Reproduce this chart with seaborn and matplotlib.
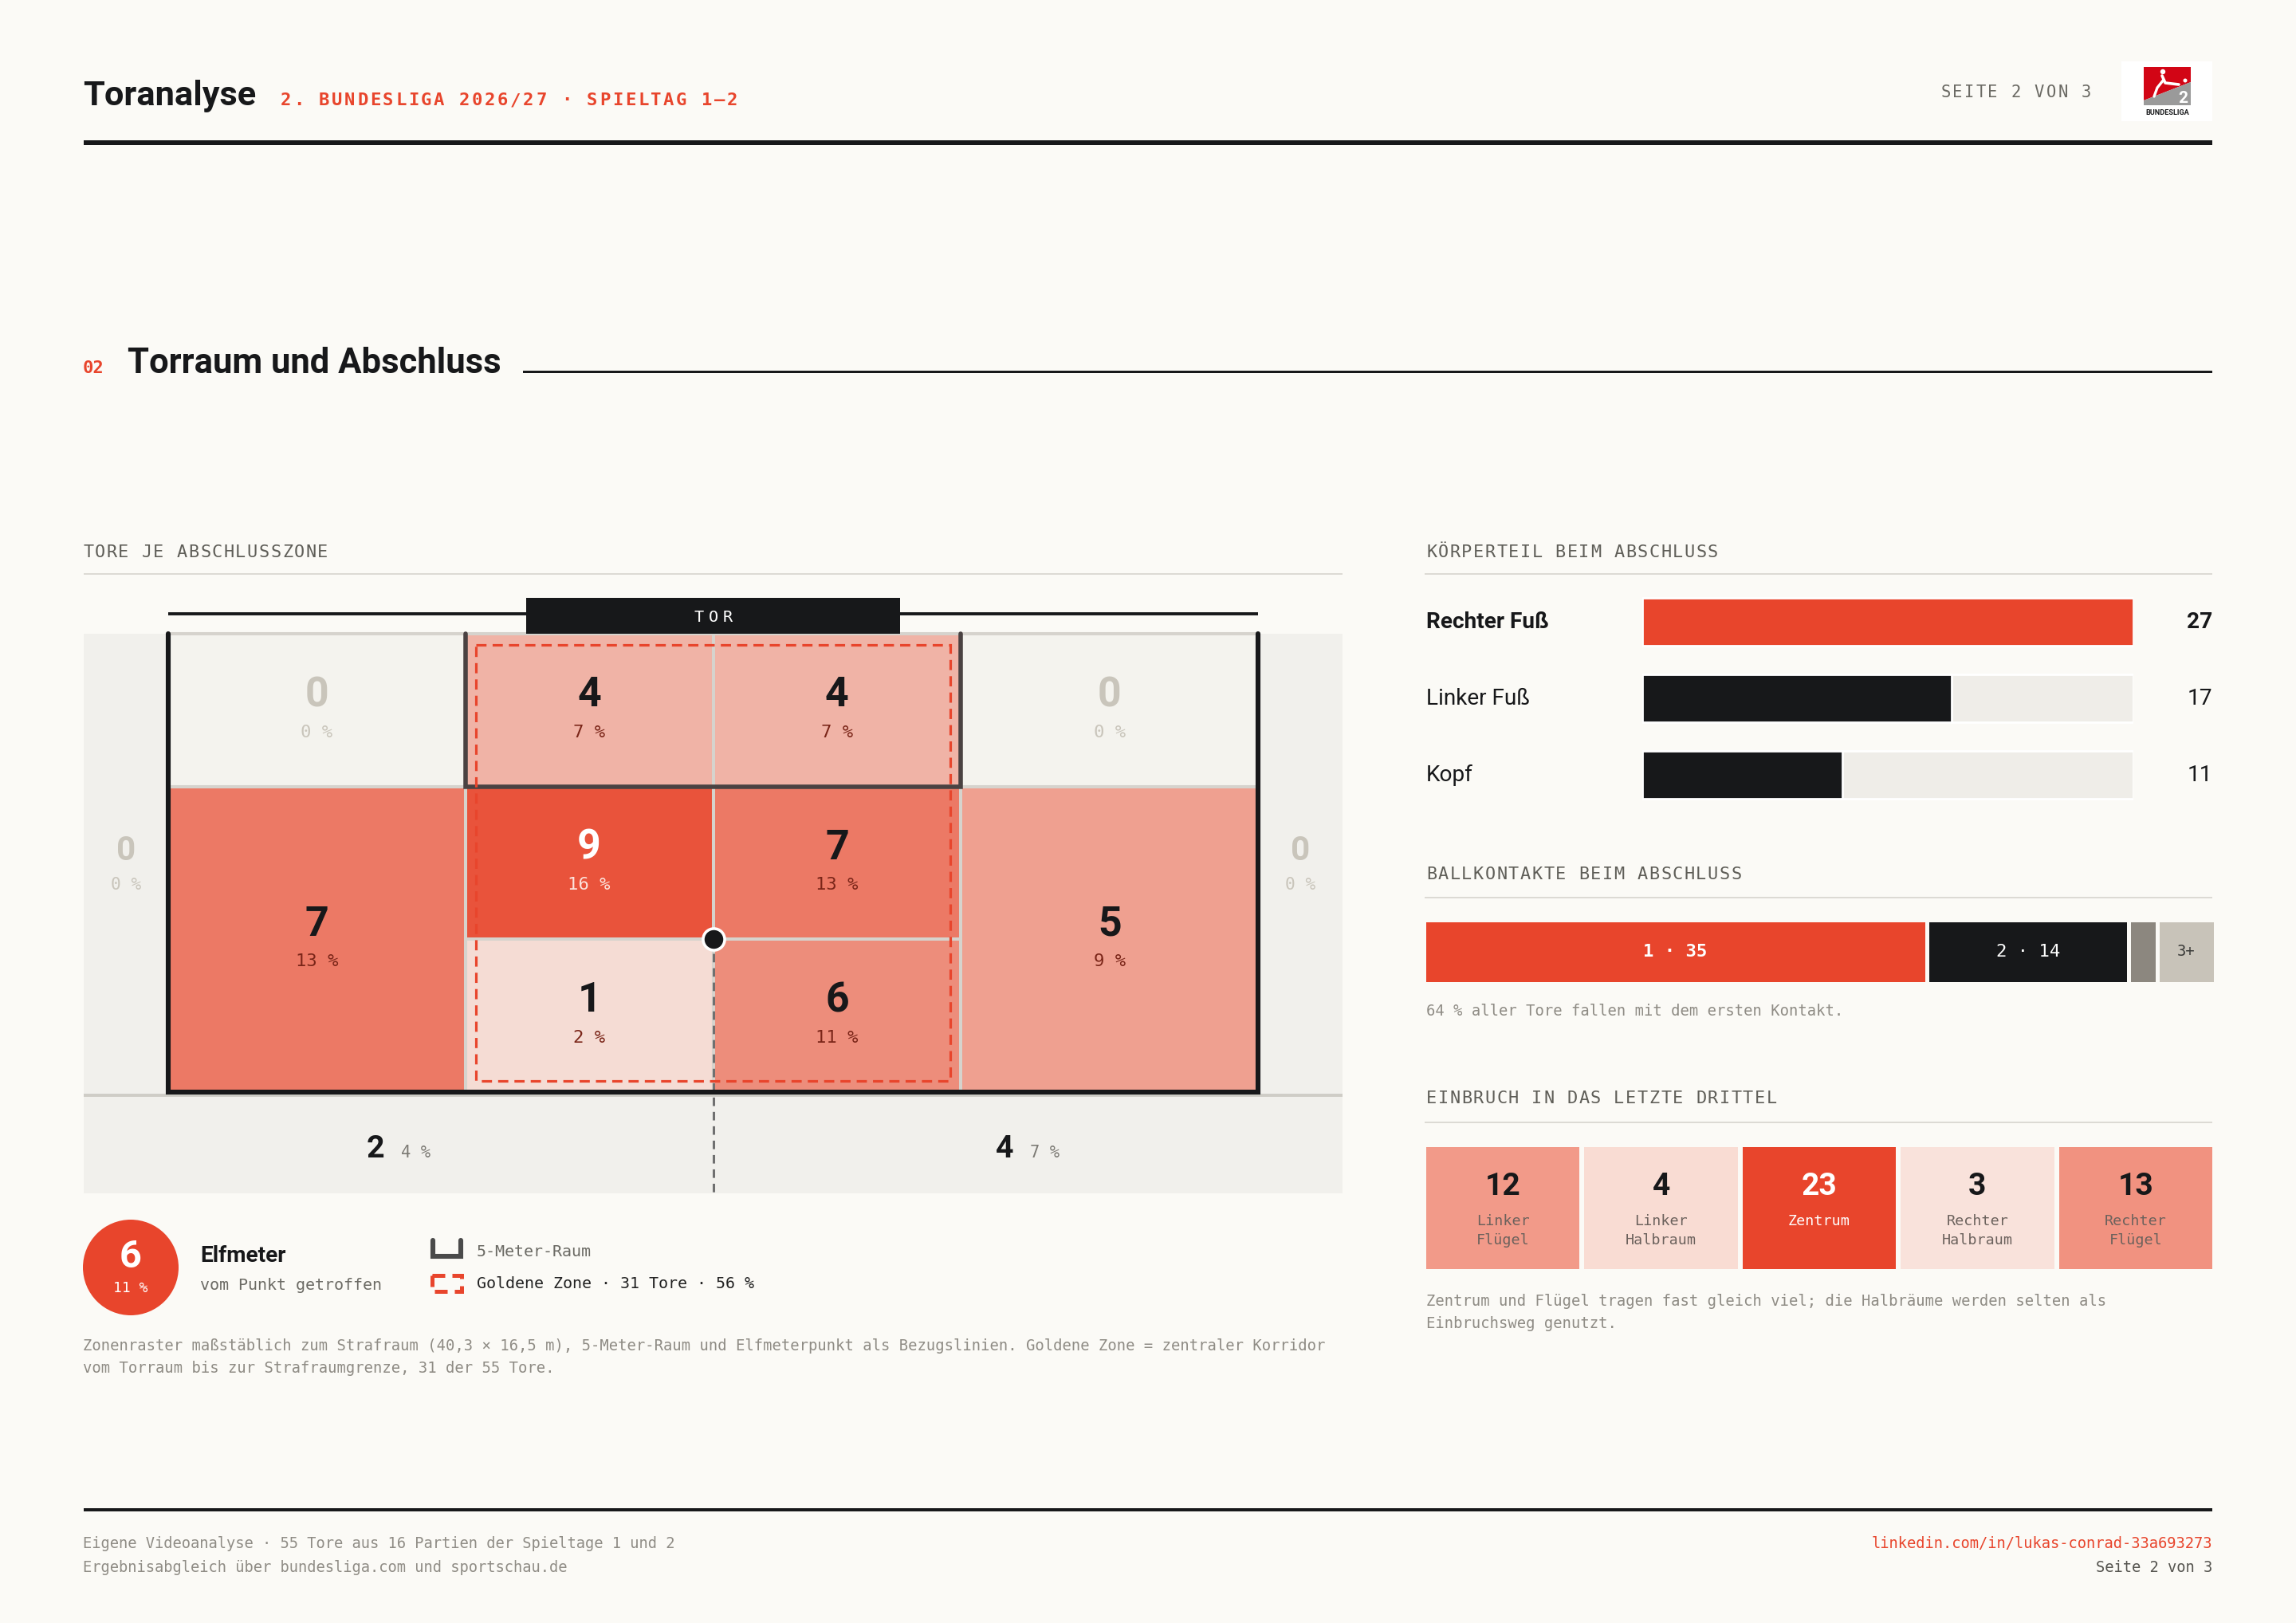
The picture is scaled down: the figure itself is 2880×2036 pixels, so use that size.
import numpy as np
import matplotlib
matplotlib.use("Agg")
import matplotlib.pyplot as plt
import seaborn as sns
from matplotlib.patches import Rectangle, Circle, Polygon
from matplotlib.colors import LinearSegmentedColormap, to_rgb

# ------------------------------------------------------------------ data
TOTAL_GOALS = 55

zone_labels = ["Torraumhöhe links außen", "Torraum links", "Torraum rechts", "Torraumhöhe rechts außen",
               "Linker Flügel", "Zentrum links", "Zentrum rechts", "Rechter Flügel",
               "Strafraumgrenze links", "Strafraumgrenze rechts"]
zone_goals = [0, 4, 4, 0, 7, 9, 7, 5, 1, 6]
golden_zone_members = ["Torraum links", "Torraum rechts", "Zentrum links", "Zentrum rechts",
                       "Strafraumgrenze links", "Strafraumgrenze rechts"]

side_labels = ["neben dem Strafraum links", "neben dem Strafraum rechts"]
side_goals = [0, 0]
below_labels = ["vor dem Strafraum links", "vor dem Strafraum rechts"]
below_goals = [2, 4]
penalty_goals = 6

body_parts = ["Rechter Fuß", "Linker Fuß", "Kopf"]
body_goals = [27, 17, 11]

contact_labels = ["1", "2", "k. A.", "3+"]
contact_goals = [35, 14, 2, 4]

channel_labels = ["Linker\nFlügel", "Linker\nHalbraum", "Zentrum", "Rechter\nHalbraum", "Rechter\nFlügel"]
channel_goals = [12, 4, 23, 3, 13]

# pitch geometry in metres (penalty area 40,3 x 16,5 m)
PA_W, PA_D = 40.3, 16.5
GA_W, GA_D = 18.32, 5.5
SPOT_D = 11.0

# ------------------------------------------------------------------ style
BG = "#FBFAF6"
DARK = "#17181A"
RED = "#E8452C"
OUT = "#F1F0EC"
ZERO = "#F4F3EE"
GRID = "#D6D3CD"
TRACK = "#EFEDE8"
MUTED = "#8F8C85"
LABEL = "#5F5E58"
ZEROTXT = "#C9C5BB"

W, H, DPI = 2880, 2036, 200
PT = 72 / DPI  # points per pixel

sns.set_theme(style="white")
plt.rcParams["font.family"] = ["Roboto", "DejaVu Sans"]
MONO = ["DejaVu Sans Mono", "DejaVu Sans"]

fig = plt.figure(figsize=(W / DPI, H / DPI), dpi=DPI, facecolor=BG)


def px_rect(x0, y0, x1, y1):
    return [x0 / W, 1 - y1 / H, (x1 - x0) / W, (y1 - y0) / H]


ax0 = fig.add_axes([0, 0, 1, 1])
ax0.set_xlim(0, W)
ax0.set_ylim(H, 0)
ax0.axis("off")
ax0.patch.set_visible(False)


def spaced(ax, x, y, s, size, adv_px, ha="left", va="baseline", **kw):
    em = size / PT
    glyph = 0.602 * em
    n = len(s)
    total = (n - 1) * adv_px + glyph
    start = {"left": 0, "right": -total, "center": -total / 2}[ha] + glyph / 2
    for i, ch in enumerate(s):
        ax.annotate(ch, (x, y), xytext=((start + i * adv_px) * PT, 0), textcoords="offset points",
                    ha="center", va=va, fontsize=size, family=MONO, **kw)


def hrule(x0, x1, y, t, color):
    ax0.add_patch(Rectangle((x0, y - t / 2), x1 - x0, t, fc=color, ec="none"))


# ------------------------------------------------------------------ header
ax0.text(104, 132, "Toranalyse", fontsize=15.6, fontweight="bold", color=DARK, va="baseline")
spaced(ax0, 352, 132, "2. BUNDESLIGA 2026/27 · SPIELTAG 1–2", 8.0, 16.0, color=RED, fontweight="bold")
spaced(ax0, 2623, 122, "SEITE 2 VON 3", 7.4, 14.7, ha="right", color="#6B6A64")
hrule(105, 2775, 179, 6, DARK)

# logo
ax0.add_patch(Rectangle((2661, 77), 114, 75, fc="white", ec="none"))
ax0.add_patch(Polygon([(2689, 84), (2748, 84), (2748, 103), (2689, 126)], closed=True, fc="#D20515", ec="none"))
ax0.add_patch(Polygon([(2689, 126), (2748, 103), (2748, 132), (2689, 132)], closed=True, fc="#9A9A9A", ec="none"))
ax0.add_patch(Circle((2713, 90), 3.2, fc="white", ec="none"))
ax0.plot([2712, 2716, 2733], [95, 104, 106], color="white", lw=1.3, solid_capstyle="round")
ax0.plot([2714, 2706, 2702], [100, 110, 121], color="white", lw=1.2, solid_capstyle="round")
ax0.add_patch(Circle((2741, 101), 2.5, fc="white", ec="none"))
ax0.text(2738, 129, "2", fontsize=7.5, fontweight="bold", color="white", ha="center", va="baseline")
ax0.text(2718.5, 141, "BUNDESLIGA", fontsize=3.3, fontweight="bold", color=DARK, ha="center", va="center")

# ------------------------------------------------------------------ section heading
ax0.text(104, 468, "02", fontsize=8.0, family=MONO, fontweight="bold", color=RED, va="baseline")
ax0.text(160, 468, "Torraum und Abschluss", fontsize=15.7, fontweight="bold", color=DARK, va="baseline")
hrule(656, 2775, 466, 3, DARK)

# panel titles
spaced(ax0, 104, 699, "TORE JE ABSCHLUSSZONE", 7.9, 14.7, color=LABEL)
hrule(105, 1684, 720, 2.5, "#DCDAD4")
spaced(ax0, 1789, 699, "KÖRPERTEIL BEIM ABSCHLUSS", 7.9, 14.7, color=LABEL)
hrule(1787, 2775, 720, 2.5, "#DCDAD4")
spaced(ax0, 1789, 1103, "BALLKONTAKTE BEIM ABSCHLUSS", 7.9, 14.7, color=LABEL)
hrule(1787, 2775, 1126, 2.5, "#DCDAD4")
spaced(ax0, 1789, 1384, "EINBRUCH IN DAS LETZTE DRITTEL", 7.9, 14.7, color=LABEL)
hrule(1787, 2775, 1408, 2.5, "#DCDAD4")

# ------------------------------------------------------------------ pitch
SIDE, BELOW, ABOVE = 3.12, 3.64, 1.58
COL = [-PA_W / 2, -GA_W / 2, 0, GA_W / 2, PA_W / 2]
ROW = [0, GA_D, SPOT_D, PA_D]
zone_cells = [(0, 1, 0, 1), (1, 2, 0, 1), (2, 3, 0, 1), (3, 4, 0, 1),
              (0, 1, 1, 3), (1, 2, 1, 2), (2, 3, 1, 2), (3, 4, 1, 3),
              (1, 2, 2, 3), (2, 3, 2, 3)]

axp = fig.add_axes(px_rect(105, 740, 1684, 1497))
axp.set_xlim(-PA_W / 2 - SIDE, PA_W / 2 + SIDE)
axp.set_ylim(PA_D + BELOW, -ABOVE)
axp.axis("off")
axp.patch.set_visible(False)

axp.add_patch(Rectangle((-PA_W / 2 - SIDE, 0), PA_W + 2 * SIDE, PA_D + BELOW, fc=OUT, ec="none", zorder=1))

pitch_cmap = LinearSegmentedColormap.from_list(
    "pitch", [(0, "#F7E6DF"), (1 / 9, "#F5DCD4"), (4 / 9, "#F0B3A6"), (1, "#E9533B")])
vmax = max(zone_goals)


def pct(v):
    return f"{round(100 * v / TOTAL_GOALS)} %"


for (c0, c1, r0, r1), v in zip(zone_cells, zone_goals):
    x0, x1, y0, y1 = COL[c0], COL[c1], ROW[r0], ROW[r1]
    fc = ZERO if v == 0 else pitch_cmap(v / vmax)
    axp.add_patch(Rectangle((x0, y0), x1 - x0, y1 - y0, fc=fc, ec=GRID, lw=1.45, zorder=2))
    cx, cy = (x0 + x1) / 2, (y0 + y1) / 2
    if v == 0:
        nc, pc = ZEROTXT, ZEROTXT
    else:
        r, g, b = to_rgb(fc)
        dark_bg = (0.299 * r + 0.587 * g + 0.114 * b) < 0.55
        nc, pc = ("white", "#FCE4DD") if dark_bg else (DARK, "#7A2518")
    axp.annotate(str(v), (cx, cy), xytext=(0, 6.8), textcoords="offset points", ha="center", va="center",
                 fontsize=18.7, fontweight="bold", color=nc, zorder=10)
    axp.annotate(pct(v), (cx, cy), xytext=(0, -10.0), textcoords="offset points", ha="center", va="center",
                 fontsize=8.0, family=MONO, color=pc, zorder=10)

# outside: beside the box
for sgn, v in zip([-1, 1], side_goals):
    cx, cy = sgn * (PA_W / 2 + SIDE / 2), PA_D / 2
    col = ZEROTXT if v == 0 else DARK
    axp.annotate(str(v), (cx, cy), xytext=(0, 5.4), textcoords="offset points", ha="center", va="center",
                 fontsize=15.2, fontweight="bold", color=col, zorder=10)
    axp.annotate(pct(v), (cx, cy), xytext=(0, -9.7), textcoords="offset points", ha="center", va="center",
                 fontsize=7.6, family=MONO, color=ZEROTXT if v == 0 else MUTED, zorder=10)

# outside: in front of the box
for sgn, v in zip([-1, 1], below_goals):
    cx, cy = sgn * (PA_W / 2 + SIDE) / 2, PA_D + BELOW / 2
    axp.annotate(str(v), (cx, cy), xytext=(-6.3, -6.5), textcoords="offset points", ha="right", va="baseline",
                 fontsize=14.2, fontweight="bold", color=DARK, zorder=10)
    axp.annotate(pct(v), (cx, cy), xytext=(1.1, -6.5), textcoords="offset points", ha="left", va="baseline",
                 fontsize=7.4, family=MONO, color="#7C7A74", zorder=10)

# line at the edge of the box across the whole width
axp.plot([-PA_W / 2 - SIDE, PA_W / 2 + SIDE], [PA_D + 0.12, PA_D + 0.12], color="#CFCDC6", lw=1.4, zorder=3)
# dashed centre line from the spot
axp.plot([0, 0], [SPOT_D, PA_D + BELOW], color="#707070", lw=1.1, ls=(0, (3.5, 2.4)), zorder=4)
# 5 m box
axp.plot([-GA_W / 2, -GA_W / 2, GA_W / 2, GA_W / 2], [0, GA_D, GA_D, 0], color="#4A4242", lw=2.0,
         solid_joinstyle="miter", zorder=5)
# penalty area
axp.plot([-PA_W / 2, -PA_W / 2, PA_W / 2, PA_W / 2], [0, PA_D, PA_D, 0], color=DARK, lw=2.2,
         solid_joinstyle="miter", zorder=6)
# golden zone
GZ_IN = 0.4
axp.add_patch(Rectangle((-GA_W / 2 + GZ_IN, GZ_IN), GA_W - 2 * GZ_IN, PA_D - 2 * GZ_IN, fc="none", ec=RED,
                        lw=1.15, ls=(0, (4, 2.4)), zorder=7))
# goal line + goal
axp.plot([-PA_W / 2, PA_W / 2], [-0.72, -0.72], color=DARK, lw=1.4, zorder=6, solid_capstyle="butt")
axp.add_patch(Rectangle((-6.9, -1.30), 13.8, 1.30, fc=DARK, ec="none", zorder=7))
spaced(axp, 0, -0.6, "TOR", 7.3, 18, ha="center", va="center", color="white", zorder=11)
# penalty spot
axp.scatter([0], [SPOT_D], s=95, c=DARK, edgecolors="white", linewidths=1.3, zorder=9)

# ------------------------------------------------------------------ penalty badge + legend
ax0.add_patch(Circle((164, 1590), 60, fc=RED, ec="none"))
ax0.text(164, 1577, str(penalty_goals), fontsize=17.5, fontweight="bold", color="white", ha="center", va="center")
ax0.text(164, 1616, pct(penalty_goals), fontsize=6.5, family=MONO, color="white", ha="center", va="center")
ax0.text(251, 1583, "Elfmeter", fontsize=10.1, fontweight="bold", color=DARK, va="baseline")
ax0.text(251, 1618, "vom Punkt getroffen", fontsize=7.2, family=MONO, color="#6B6A64", va="baseline")

ax0.plot([543, 543, 578, 578], [1556, 1576, 1576, 1556], color="#4A4A4A", lw=2.2, solid_joinstyle="miter")
ax0.text(598, 1570, "5-Meter-Raum", fontsize=7.2, family=MONO, color="#6B6A64", va="center")
ax0.add_patch(Rectangle((542, 1600), 37, 20, fc="none", ec=RED, lw=1.8, ls=(0, (3.2, 1.8))))
golden_total = sum(v for n, v in zip(zone_labels, zone_goals) if n in golden_zone_members)
ax0.text(598, 1611, f"Goldene Zone · {golden_total} Tore · {pct(golden_total)}", fontsize=7.2, family=MONO,
         color="#222222", va="center")

ax0.text(104, 1688, "Zonenraster maßstäblich zum Strafraum (40,3 × 16,5 m), 5-Meter-Raum und Elfmeterpunkt als "
         "Bezugslinien. Goldene Zone = zentraler Korridor", fontsize=6.8, family=MONO, color=MUTED, va="center")
ax0.text(104, 1717, f"vom Torraum bis zur Strafraumgrenze, {golden_total} der {TOTAL_GOALS} Tore.",
         fontsize=6.8, family=MONO, color=MUTED, va="center")

# ------------------------------------------------------------------ body parts (seaborn bars)
axb = fig.add_axes(px_rect(2060, 732, 2676, 1020))
bmax = max(body_goals)
sns.barplot(x=[bmax] * len(body_parts), y=body_parts, color=TRACK, width=0.625, ax=axb, orient="h",
            saturation=1)
sns.barplot(x=body_goals, y=body_parts, hue=body_parts, palette=[RED] + [DARK] * (len(body_parts) - 1),
            width=0.625, ax=axb, orient="h", saturation=1, legend=False)
axb.set_xlim(0, bmax)
axb.set_ylim(len(body_parts) - 0.5, -0.5)
axb.axis("off")
axb.patch.set_visible(False)
for i, (lab, v) in enumerate(zip(body_parts, body_goals)):
    w = "bold" if i == 0 else "normal"
    axb.text(-0.44, i, lab, transform=axb.get_yaxis_transform(), ha="left", va="center",
             fontsize=10.1, fontweight=w, color=DARK)
    axb.text(1.1607, i, str(v), transform=axb.get_yaxis_transform(), ha="right", va="center",
             fontsize=10.1, fontweight=w, color=DARK)

# ------------------------------------------------------------------ ball contacts (stacked bar)
axk = fig.add_axes(px_rect(1785.5, 1153.5, 2778.5, 1233.5))
ktot = sum(contact_goals)
left = np.concatenate([[0], np.cumsum(contact_goals)[:-1]])
kcolors = [RED, DARK, "#8C877F", "#C8C3B9"]
axk.barh([0] * len(contact_goals), contact_goals, left=left, height=1.0, color=kcolors, edgecolor=BG,
         linewidth=1.8)
axk.set_xlim(0, ktot)
axk.set_ylim(-0.5, 0.5)
axk.axis("off")
axk.patch.set_visible(False)
for i, (lab, v, l0) in enumerate(zip(contact_labels, contact_goals, left)):
    share = v / ktot
    if share >= 0.15:
        axk.text(l0 + v / 2, 0, f"{lab} · {v}", ha="center", va="center", fontsize=8.0, family=MONO,
                 fontweight="bold" if i == 0 else "normal", color="white")
    elif share >= 0.06:
        axk.text(l0 + v / 2, 0, lab, ha="center", va="center", fontsize=6.8, family=MONO, color="#3A3A38")
first_share = round(100 * contact_goals[0] / ktot)
ax0.text(1789, 1269, f"{first_share} % aller Tore fallen mit dem ersten Kontakt.", fontsize=6.8, family=MONO,
         color=MUTED, va="center")

# ------------------------------------------------------------------ channels (seaborn heatmap tiles)
axt = fig.add_axes(px_rect(1786, 1436, 2778, 1595))
tile_cmap = LinearSegmentedColormap.from_list(
    "tiles", [(0, "#FCF1EC"), (0.15, "#F9E0D8"), (0.5, "#F29E8D"), (1, RED)])
cmax = max(channel_goals)
sns.heatmap(np.array([channel_goals]), ax=axt, cmap=tile_cmap, vmin=0, vmax=cmax, cbar=False,
            linewidths=1.45, linecolor=BG, xticklabels=False, yticklabels=False)
axt.axis("off")
for i, (lab, v) in enumerate(zip(channel_labels, channel_goals)):
    top = v == cmax
    axt.annotate(str(v), (i + 0.5, 0.5), xytext=(0, 9.7), textcoords="offset points", ha="center",
                 va="center", fontsize=14.0, fontweight="bold", color="white" if top else DARK)
    for j, line in enumerate(lab.split("\n")):
        axt.annotate(line, (i + 0.5, 0.5), xytext=(0, -5.9 - 8.6 * j), textcoords="offset points",
                     ha="center", va="center", fontsize=6.6, family=MONO,
                     color="white" if top else "#6B615C")
ax0.text(1789, 1632, "Zentrum und Flügel tragen fast gleich viel; die Halbräume werden selten als",
         fontsize=6.8, family=MONO, color=MUTED, va="center")
ax0.text(1789, 1660, "Einbruchsweg genutzt.", fontsize=6.8, family=MONO, color=MUTED, va="center")

# ------------------------------------------------------------------ footer
hrule(105, 2775, 1894, 4.5, DARK)
ax0.text(104, 1937, f"Eigene Videoanalyse · {TOTAL_GOALS} Tore aus 16 Partien der Spieltage 1 und 2",
         fontsize=6.75, family=MONO, color=MUTED, va="center")
ax0.text(104, 1966, "Ergebnisabgleich über bundesliga.com und sportschau.de", fontsize=6.75, family=MONO,
         color=MUTED, va="center")
ax0.text(2775, 1937, "linkedin.com/in/lukas-conrad-33a693273", fontsize=6.75, family=MONO, color=RED,
         ha="right", va="center")
ax0.text(2775, 1966, "Seite 2 von 3", fontsize=6.75, family=MONO, color="#55544F", ha="right", va="center")

fig.savefig("out.png", dpi=DPI, facecolor=BG)
